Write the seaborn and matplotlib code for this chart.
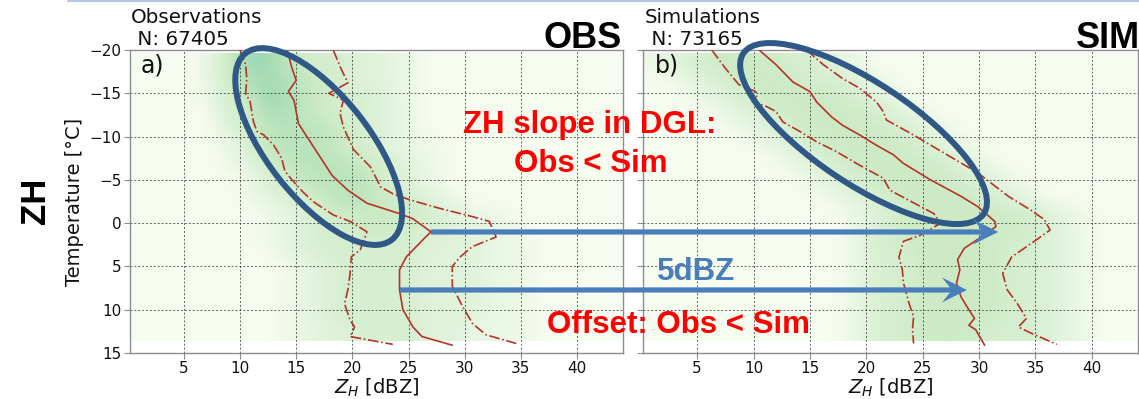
import numpy as np
import matplotlib
matplotlib.use("Agg")
import matplotlib.pyplot as plt
import matplotlib.transforms as mtransforms
from matplotlib.patches import Ellipse, Polygon
from matplotlib.lines import Line2D
import seaborn as sns

# ---------------- data ----------------
# CFAD intensity grids: rows = temperature levels, columns = ZH bins (digit = relative frequency)
temp_rows = [-19, -17, -15, -13, -11, -9, -7, -5, -3, -1, 1, 3, 5, 7, 9, 11, 13]
zh_cols = [1, 3, 5, 7, 9, 11, 13, 15, 17, 19, 21, 23, 25, 27, 29, 31, 33, 35, 37, 39, 41, 43]
obs_density = [
    "0001476433221000000000",
    "0001466543221000000000",
    "0001357543321000000000",
    "0000346543321000000000",
    "0000245554321000000000",
    "0000135554321100000000",
    "0000124555432100000000",
    "0000013455532100000000",
    "0000012345543210000000",
    "0000001234444321100000",
    "0000001233443322110000",
    "0000001233333222110000",
    "0000000123333222110000",
    "0000000123333222110000",
    "0000000123333222110000",
    "0000000123333222110000",
    "0000000122333221110000",
]
sim_density = [
    "1234443321000000000000",
    "0123444332100000000000",
    "0012344443210000000000",
    "0001234444321000000000",
    "0000123444432100000000",
    "0000012344443210000000",
    "0000001234444321000000",
    "0000000123444432100000",
    "0000000012344443210000",
    "0000000001234444432100",
    "0000000001344444432100",
    "0000000001334444332100",
    "0000000001334444332100",
    "0000000001334444332100",
    "0000000001334444332100",
    "0000000001334444332100",
    "0000000001334443332100",
]

# Observations: median and quantile profiles
obs_med_T = [-20, -18, -16.5, -15.2, -14.2, -11.5, -9.5, -7.5, -5.5, -3.8, -2.3, -1.1, -0.5, 1.0, 1.9, 3.9, 5.4, 7.7, 10.0, 12.0, 13.1, 14.1]
obs_med_ZH = [14.2, 14.6, 15.0, 14.3, 14.8, 15.2, 16.2, 17.2, 18.2, 19.6, 21.3, 24.2, 25.4, 27.0, 26.3, 24.8, 24.2, 24.2, 24.5, 25.4, 26.2, 28.9]
obs_q1_T = [-20, -18.3, -16.7, -15, -14, -11.7, -10.6, -10.2, -9, -7.5, -6, -5.2, -3.6, -2.5, -0.95, -0.2, 1.0, 3.1, 3.9, 5.8, 7.7, 9.3, 11.2, 12.0, 13.1, 14.0]
obs_q1_ZH = [10.0, 10.5, 10.6, 10.5, 10.9, 11.2, 11.5, 12.1, 13.0, 13.7, 14.0, 14.5, 15.6, 16.5, 18.3, 19.8, 21.3, 20.7, 19.9, 19.8, 19.6, 19.3, 19.8, 20.2, 19.8, 23.6]
obs_q3_T = [-20, -18.1, -16.2, -15, -14.2, -12.7, -11.1, -8.5, -6.5, -5, -4.2, -3.4, -2.7, -1.7, -0.75, -0.2, 1.6, 2.7, 3.9, 5.0, 7.3, 9.6, 11.6, 12.9, 13.9]
obs_q3_ZH = [18.3, 18.9, 19.6, 17.9, 19.2, 18.9, 19.2, 20.1, 21.6, 22.2, 22.5, 23.6, 25.1, 27.8, 30.7, 32.2, 32.8, 30.7, 29.6, 28.9, 28.9, 29.8, 30.7, 31.9, 34.6]

# Simulations: median and quantile profiles
sim_med_T = [-20, -18.3, -16.3, -15.2, -14, -12.3, -11.3, -10.2, -9, -7.9, -6.9, -5.0, -3.1, -1.9, -0.2, 0.4, 1.6, 2.9, 4.2, 5.4, 6.9, 8.5, 9.8, 11.0, 11.8, 12.3, 14.1]
sim_med_ZH = [10.5, 12.0, 13.5, 15.0, 15.6, 16.9, 17.9, 19.4, 20.9, 22.4, 23.3, 25.7, 28.4, 29.9, 31.4, 31.5, 30.2, 28.7, 28.1, 28.3, 28.0, 28.4, 29.0, 29.6, 29.1, 29.7, 30.5]
sim_q1_T = [-20, -17.9, -16, -15.2, -14.4, -14, -13.5, -12.9, -11.7, -10.6, -9.4, -8.3, -6.7, -5.2, -3.8, -1.1, 0.0, 1.4, 2.1, 3.9, 5.4, 6.9, 9.3, 10.8, 12.3, 13.9]
sim_q1_ZH = [6.3, 7.5, 8.7, 10.2, 10.3, 9.9, 11.1, 12.0, 12.6, 14.1, 15.6, 17.3, 19.4, 21.5, 22.1, 26.0, 26.6, 24.8, 23.3, 22.9, 23.2, 23.3, 23.8, 24.2, 24.1, 24.2]
sim_q3_T = [-20, -18.3, -16.7, -15.6, -14, -12.9, -11.9, -10.4, -8.1, -5.8, -3.1, -1.5, -0.4, 0.8, 2.1, 3.9, 5.8, 7.7, 9.3, 11.0, 12.0, 12.7, 14.0]
sim_q3_ZH = [14.7, 16.2, 17.9, 19.4, 20.9, 21.5, 21.8, 23.9, 26.9, 29.9, 32.6, 34.6, 35.8, 36.3, 34.9, 32.9, 32.1, 32.5, 33.4, 34.2, 33.5, 34.6, 36.9]

x_ticks = [5, 10, 15, 20, 25, 30, 35, 40]
y_ticks = [-20, -15, -10, -5, 0, 5, 10, 15]
panel_titles = ["Observations", "Simulations"]
panel_counts = [" N: 67405", " N: 73165"]
panel_letters = ["a)", "b)"]

# ---------------- style ----------------
sns.set_theme(style="ticks")
plt.rcParams["font.family"] = ["DejaVu Sans"]
plt.rcParams["mathtext.fontset"] = "dejavusans"

RED_LINE = "#b5332b"
ELL_COL = "#2f5886"
ARR_COL = "#4a7ebb"
BOLD_FONT = ["Liberation Sans", "DejaVu Sans"]

W, H = 1139, 399
fig = plt.figure(figsize=(W / 100, H / 100), dpi=100)
fig.patch.set_facecolor("white")


def px_rect(x0, y0, x1, y1):
    return [x0 / W, 1 - y1 / H, (x1 - x0) / W, (y1 - y0) / H]


ax1 = fig.add_axes(px_rect(130, 50, 623, 353))
ax2 = fig.add_axes(px_rect(643, 50, 1138, 353))

XLIM = (0.2, 44.1)
YLIM = (15, -20)

panels = [
    (ax1, obs_density, [(obs_q1_ZH, obs_q1_T, "-."), (obs_med_ZH, obs_med_T, "-"), (obs_q3_ZH, obs_q3_T, "-.")]),
    (ax2, sim_density, [(sim_q1_ZH, sim_q1_T, "-."), (sim_med_ZH, sim_med_T, "-"), (sim_q3_ZH, sim_q3_T, "-.")]),
]

dz = zh_cols[1] - zh_cols[0]
for ax, dens, lines in panels:
    grid = np.array([[int(c) for c in row] for row in dens], dtype=float)
    ax.imshow(grid, cmap="GnBu", vmin=0, vmax=16.0, interpolation="bicubic",
              extent=[zh_cols[0] - dz / 2, zh_cols[-1] + dz / 2, temp_rows[-1] + 0.6, temp_rows[0] - 0.6],
              aspect="auto", zorder=0)
    for zh, tt, ls in lines:
        sns.lineplot(x=zh, y=tt, orient="y", sort=False, estimator=None, ax=ax,
                     color=RED_LINE, linestyle=ls, linewidth=1.2, zorder=3)
    ax.set_xlim(*XLIM)
    ax.set_ylim(*YLIM)
    ax.set_xticks(x_ticks)
    ax.set_yticks(y_ticks)
    ax.grid(True, color="black", linestyle=(0, (2, 2)), linewidth=0.7, alpha=0.6)
    for sp in ax.spines.values():
        sp.set_visible(True)
        sp.set_color("#8c8c8c")
        sp.set_linewidth(1.0)
    ax.tick_params(axis="both", labelsize=11, length=4, width=0.8, color="#8c8c8c",
                   labelcolor="#111111", pad=2)
    ax.set_xlabel("$Z_H$ [dBZ]", fontsize=14, color="#111111", labelpad=0)

ax1.set_ylabel("Temperature [°C]", fontsize=14, color="#111111", labelpad=4)
ax2.set_ylabel("")
ax2.tick_params(labelleft=False)


def fx(x):
    return x / W


def fy(y):
    return 1 - y / H


# panel titles
for x0, title, count in [(131, panel_titles[0], panel_counts[0]), (645, panel_titles[1], panel_counts[1])]:
    fig.text(fx(x0), fy(23), title, fontsize=14.3, va="baseline", ha="left", color="#111111")
    fig.text(fx(x0), fy(45), count, fontsize=14.3, va="baseline", ha="left", color="#111111")
fig.text(fx(141), fy(73), panel_letters[0], fontsize=17, va="baseline", ha="left", color="#111111")
fig.text(fx(655), fy(72), panel_letters[1], fontsize=17, va="baseline", ha="left", color="#111111")

# big labels
fig.text(fx(622), fy(48), "OBS", fontsize=26, fontweight="bold", family=BOLD_FONT,
         ha="right", va="baseline", color="black")
fig.text(fx(1140), fy(48), "SIM", fontsize=26, fontweight="bold", family=BOLD_FONT,
         ha="right", va="baseline", color="black")
fig.text(fx(36), fy(201), "ZH", fontsize=25, fontweight="bold", family=BOLD_FONT,
         rotation=90, ha="center", va="center", color="black")

# annotations
ann_kw = dict(fontsize=22.5, fontweight="bold", family=BOLD_FONT, ha="center", va="baseline")
fig.text(fx(590), fy(133), "ZH slope in DGL:", color="red", **ann_kw)
fig.text(fx(590.5), fy(172), "Obs < Sim", color="red", **ann_kw)
fig.text(fx(696.5), fy(280), "5dBZ", color=ARR_COL, **ann_kw)
fig.text(fx(678.5), fy(333), "Offset: Obs < Sim", color="red", **ann_kw)

# ellipses (size in pixels, centre anchored in data coordinates)
for ax, (cx, cy), (w_px, h_px), ang in [
    (ax1, (17.0, -8.85), (237, 102), -51.9),
    (ax2, (19.76, -10.35), (289, 101), -33.7),
]:
    tr = fig.dpi_scale_trans + mtransforms.ScaledTranslation(cx, cy, ax.transData)
    fig.add_artist(Ellipse((0, 0), w_px / 100, h_px / 100, angle=ang, transform=tr,
                           fill=False, edgecolor=ELL_COL, linewidth=4.3, zorder=4))

# arrows (start anchored in panel a, tip anchored in panel b)
ident = mtransforms.IdentityTransform()
for (sx, sy), (tx, ty) in [((27.0, 1.02), (31.7, 1.02)), ((24.24, 7.72), (28.93, 7.72))]:
    x0, y0 = ax1.transData.transform((sx, sy))
    x1, _ = ax2.transData.transform((tx, ty))
    half = 2.6
    head_len, head_half, notch = 25, 12.5, 17
    verts = [
        (x0, y0 + half), (x1 - notch, y0 + half), (x1 - head_len, y0 + head_half),
        (x1, y0), (x1 - head_len, y0 - head_half), (x1 - notch, y0 - half), (x0, y0 - half),
    ]
    fig.add_artist(Polygon(verts, closed=True, transform=ident, facecolor=ARR_COL,
                           edgecolor="none", zorder=4))

# slide header line
fig.add_artist(Line2D([68 / W, 1.0], [1 - 0.8 / H, 1 - 0.8 / H], transform=fig.transFigure,
                      color="#b4c7e7", linewidth=1.5))

fig.savefig("out.png", dpi=100)
